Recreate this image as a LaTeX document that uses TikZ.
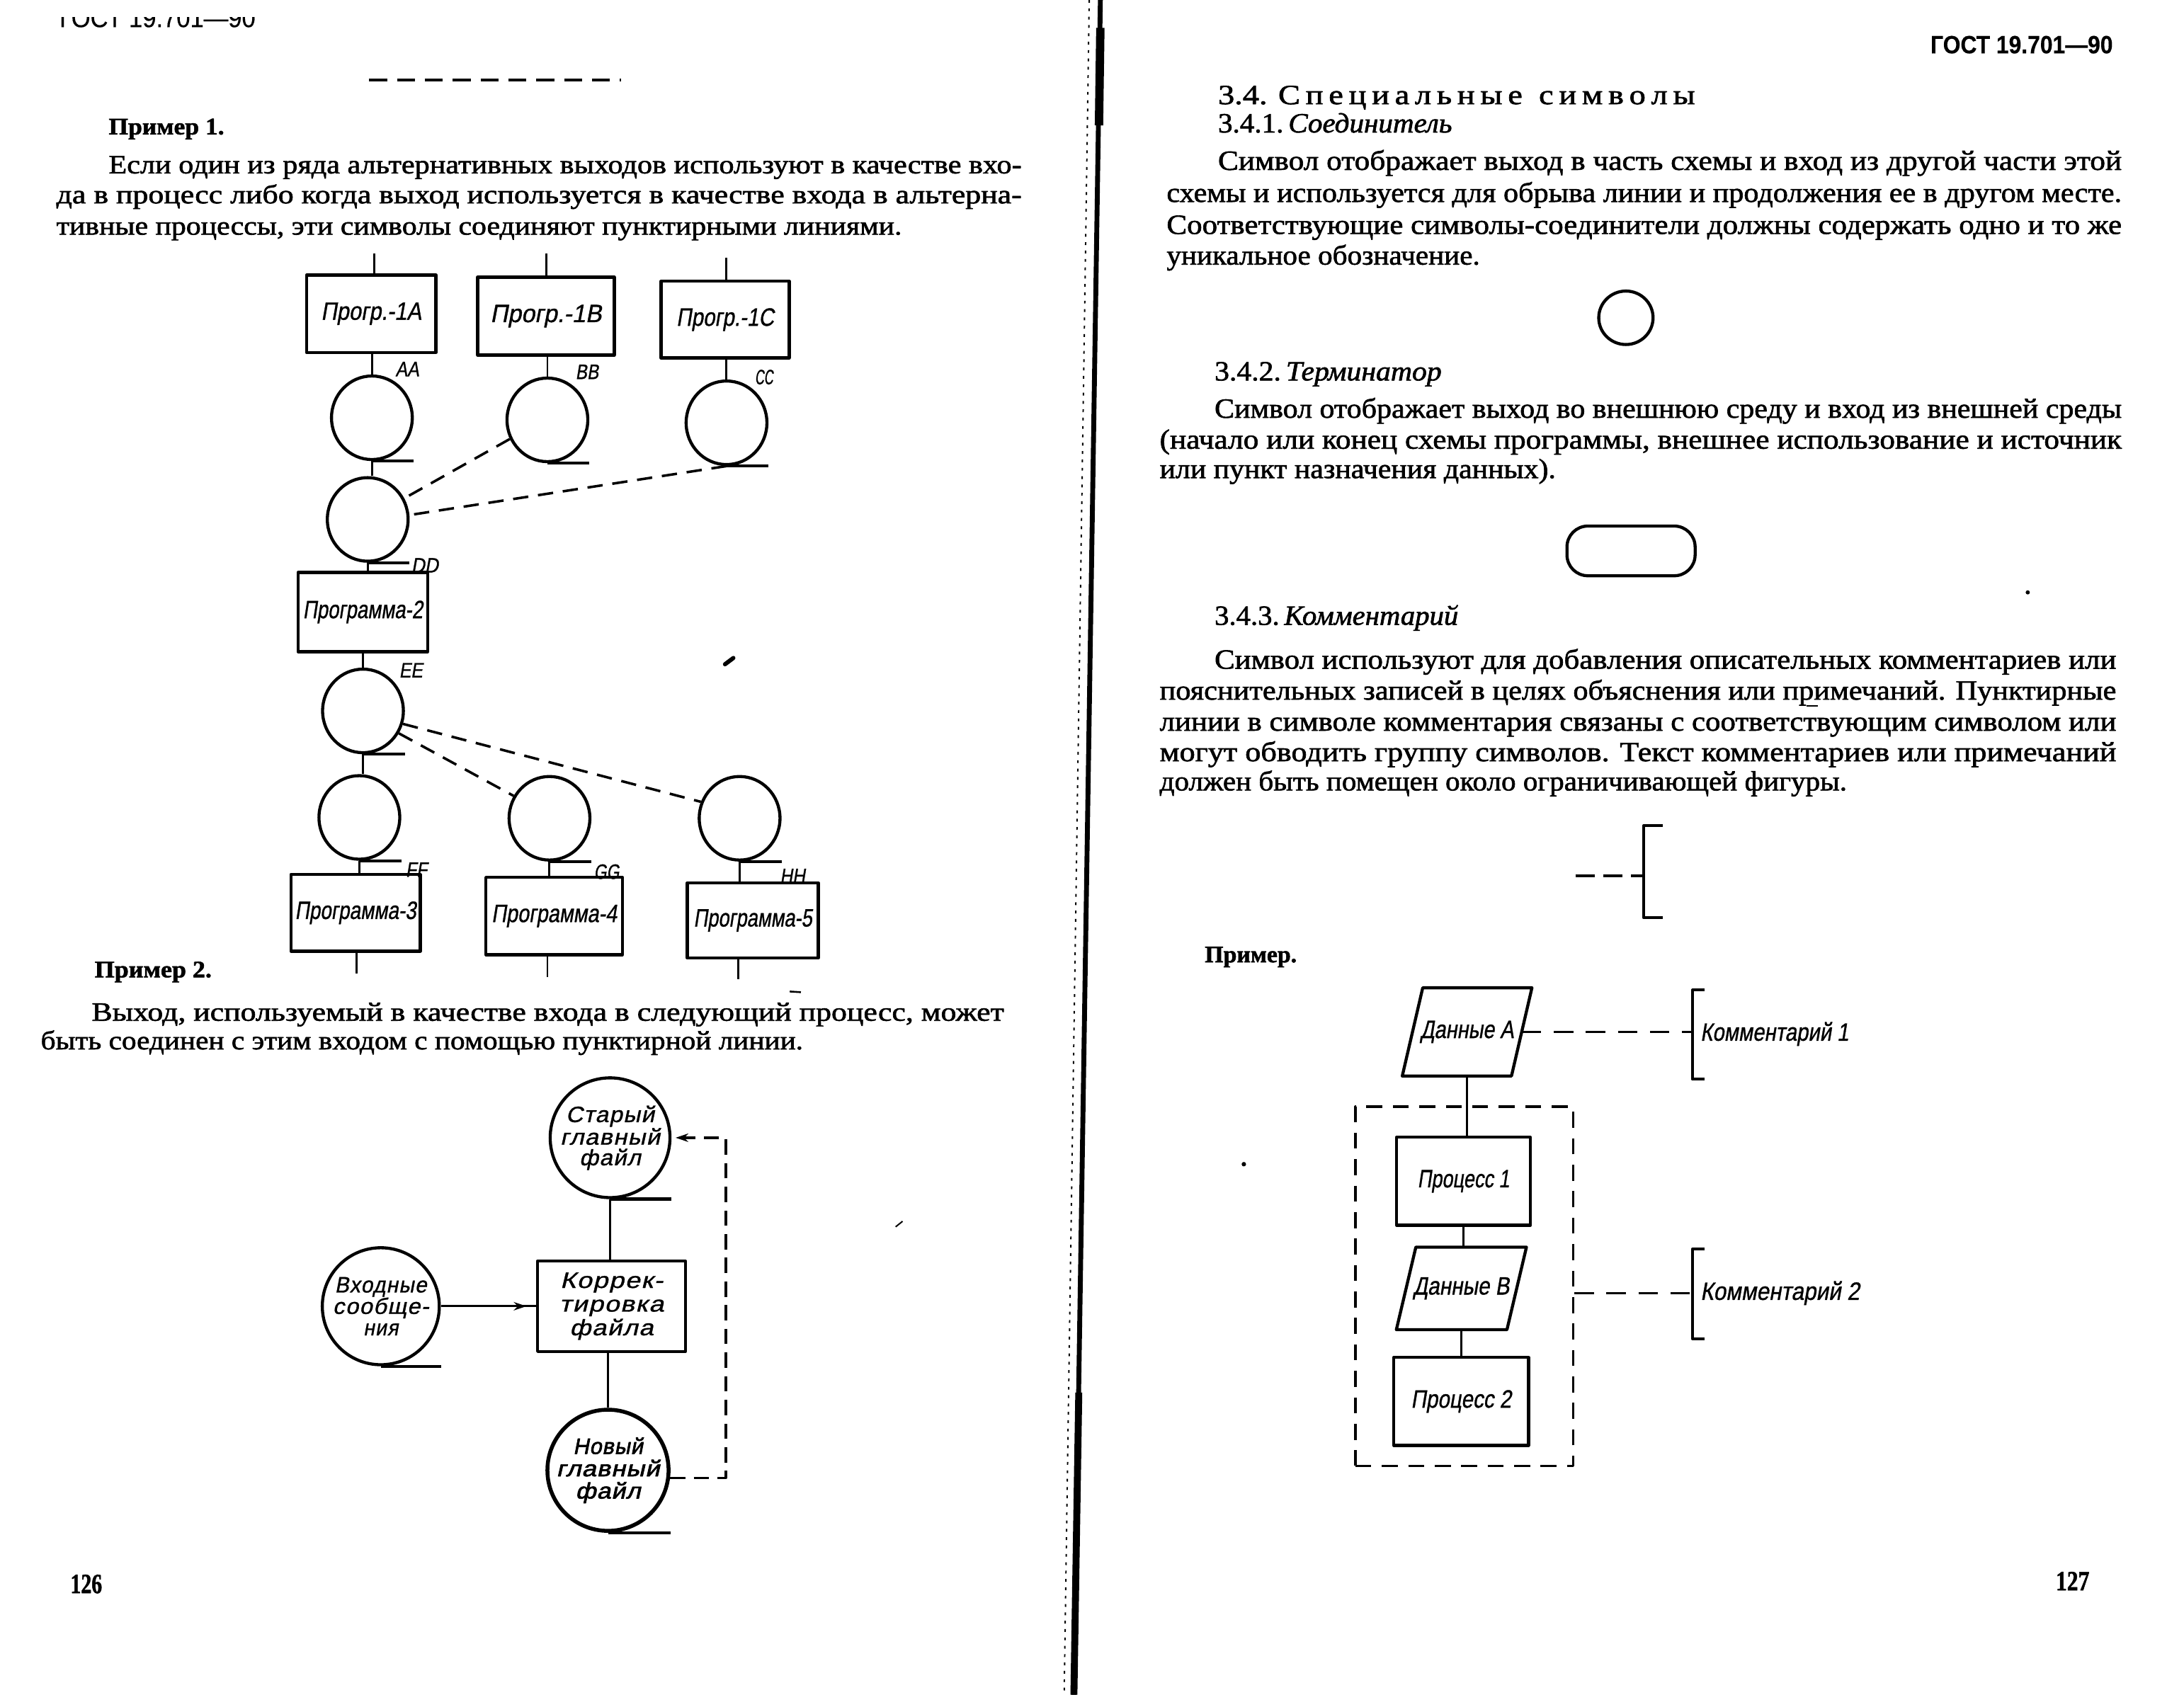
\documentclass[tikz,border=0pt]{standalone}
\usepackage{fontspec}
\usepackage{graphicx}
\usetikzlibrary{shapes.geometric,arrows.meta,decorations.markings}
\setmainfont{Liberation Serif}
\newfontfamily\bodyf{Liberation Serif}[FakeBold=1.6]
\newfontfamily\headf{Liberation Sans}[FakeBold=0.3]
\newfontfamily\gost{Liberation Sans}[FakeSlant=0.2,FakeBold=1.0]
\newfontfamily\gostw{Liberation Sans}[FakeSlant=0.2,FakeBold=1.0,LetterSpace=4]
\newfontfamily\gostb{Liberation Sans}[FakeSlant=0.2,FakeBold=2.2,LetterSpace=3]
% set a line of text at its natural height, scaled horizontally to a given width
\newcommand\fitw[2]{\setbox0=\hbox{#2}\pgfmathsetmacro\fitsc{#1/\the\wd0}\scalebox{\fitsc}[1]{\box0}}
\begin{document}
\begin{tikzpicture}[x=1pt,y=-1pt,line join=round,
  tl/.style={anchor=base west,inner sep=0pt,outer sep=0pt},
  txt/.style={tl,font=\bodyf\fontsize{20}{22}\selectfont},
  ltxt/.style={tl,font=\bodyf\fontsize{19}{21}\selectfont},
  btxt/.style={tl,font=\bodyf\bfseries\fontsize{17}{20}\selectfont},
  shp/.style={draw,line width=2.2pt},
  proc/.style={shp,rectangle,inner sep=1pt,font=\gost\fontsize{18}{18}\selectfont},
  tape/.style={shp,ellipse,minimum width=58pt,minimum height=60pt,inner sep=0pt},
  bigtape/.style={shp,circle,minimum size=#1,inner sep=-12pt,align=center},
  conn/.style={line width=1.5pt},
  dsh/.style={line width=1.8pt,dash pattern=on 11pt off 7pt},
  lbl/.style={inner sep=0pt,font=\gost\fontsize{15}{15}\selectfont},
  rlbl/.style={font=\gost\fontsize{18}{18}\selectfont},
  brk/.style={line width=2pt},
  arrowmid/.style={postaction={decorate},decoration={markings,
     mark=at position -7pt with {\arrow{Stealth[length=9pt,width=6pt]}}}}]

\fill[white] (0,0) rectangle (1568,1217);
\useasboundingbox (0,0) rectangle (1568,1217);

% ---------------- page 126 ----------------
\begin{scope}
  \clip (30,12.3) rectangle (200,30);
  \node[tl,font=\headf\fontsize{19}{19}\selectfont] (hl) at (42.7,19.5) {\fitw{140.7}{ГОСТ 19.701—90}};
\end{scope}
\coordinate (dl1) at (265,57.5);
\coordinate (dl2) at (446,57.5);
\draw[line width=2.4pt,dash pattern=on 13pt off 7pt] (dl1) -- (dl2);

\node[btxt] (ex1) at (78,96.5) {\fitw{83}{Пример 1.}};
\node[ltxt] (a1) at (78,124.5) {\fitw{655.5}{Если один из ряда альтернативных выходов используют в качестве вхо-}};
\node[ltxt] (a2) at (40.5,146) {\fitw{693}{да в процесс либо когда выход используется в качестве входа в альтерна-}};
\node[ltxt] (a3) at (40.5,168.5) {\fitw{607}{тивные процессы, эти символы соединяют пунктирными линиями.}};

% example 1: alternative outputs
\node[proc,minimum width=93pt,minimum height=55.5pt] (p1a) at (266.5,225.3) {\fitw{72}{Прогр.-1A}};
\node[proc,minimum width=98pt,minimum height=56pt] (p1b) at (392,227) {\fitw{80}{Прогр.-1B}};
\node[proc,minimum width=92pt,minimum height=55pt] (p1c) at (520.6,229.5) {\fitw{70}{Прогр.-1C}};
\coordinate (i1a) at (268.6,182);
\coordinate (i1b) at (392.4,182);
\coordinate (i1c) at (521.6,185);
\draw[conn] (i1a) -- (i1a |- p1a.north);
\draw[conn] (i1b) -- (i1b |- p1b.north);
\draw[conn] (i1c) -- (i1c |- p1c.north);

\node[tape] (ca) at (267,300) {};
\node[tape] (cb) at (393,301.5) {};
\node[tape] (cc) at (521.6,303.6) {};
\node[tape] (cd) at (264,373) {};
\node[proc,minimum width=93pt,minimum height=57pt] (p2) at (260.5,439.5) {\fitw{86}{Программа-2}};
\node[tape] (ce) at (260.6,510.5) {};
\node[tape] (cf) at (258,587) {};
\node[tape] (cg) at (394.5,587.6) {};
\node[tape] (ch) at (531,587.6) {};
\node[proc,minimum width=93pt,minimum height=55pt] (p3) at (255.3,655.5) {\fitw{87}{Программа-3}};
\node[proc,minimum width=98pt,minimum height=55.5pt] (p4) at (397.9,657.8) {\fitw{90}{Программа-4}};
\node[proc,minimum width=94pt,minimum height=54pt] (p5) at (540.5,661) {\fitw{85}{Программа-5}};
\foreach \n in {ca,cb,cc,cd,ce,cf,cg,ch}
  \draw[shp] (\n.south) -- (\n.south -| \n.east);

\draw[conn] (ca.north |- p1a.south) -- (ca.north);
\draw[conn] (cb.north |- p1b.south) -- (cb.north);
\draw[conn] (cc.north |- p1c.south) -- (cc.north);
\draw[conn] (ca.south) -- (ca.south |- cd.north);
\draw[conn] (cd.south) -- (cd.south |- p2.north);
\draw[conn] (ce.north |- p2.south) -- (ce.north);
\draw[conn] (ce.south) -- (ce.south |- cf.north);
\draw[conn] (cf.south) -- (cf.south |- p3.north);
\draw[conn] (cg.south) -- (cg.south |- p4.north);
\draw[conn] (ch.south) -- (ch.south |- p5.north);
\coordinate (o3) at (256,699);
\coordinate (o4) at (393,701.5);
\coordinate (o5) at (530,703);
\draw[conn] (o3 |- p3.south) -- (o3);
\draw[conn] (o4 |- p4.south) -- (o4);
\draw[conn] (o5 |- p5.south) -- (o5);

\draw[dsh] (cb.207) -- (cd.30);
\draw[dsh] (cc.south) -- (cd.6);
\draw[dsh] (ce.-32) -- (cg.148);
\draw[dsh] (ce.-18) -- (ch.157);

\node[lbl] (laa) at (292.4,265) {\fitw{16.8}{AA}};
\node[lbl] (lbb) at (421.5,267) {\fitw{16.6}{BB}};
\node[lbl] (lcc) at (548.5,270.8) {\fitw{13}{CC}};
\node[lbl] (ldd) at (305,406) {\fitw{19.4}{DD}};
\node[lbl] (lee) at (295,481.3) {\fitw{16.8}{EE}};
\node[lbl] (lff) at (299,624.5) {\fitw{15.5}{FF}};
\node[lbl] (lgg) at (435.5,626) {\fitw{18.2}{GG}};
\node[lbl] (lhh) at (569,629) {\fitw{18}{HH}};

\draw[line width=3pt,line cap=round] (520.5,477) -- (526.5,472.5);

\node[btxt] (ex2) at (68,701.8) {\fitw{84}{Пример 2.}};
\node[ltxt] (b1) at (65.8,733) {\fitw{655}{Выход, используемый в качестве входа в следующий процесс, может}};
\node[ltxt] (b2) at (29.3,753.5) {\fitw{547.3}{быть соединен с этим входом с помощью пунктирной линии.}};
\draw[line width=1.3pt] (567,712) -- (575,712.5);

% example 2: output used as the next input
\node[bigtape=86pt,font=\gostw\fontsize{16}{14.8}\selectfont] (sf) at (438,817)
  {\fitw{63.5}{Старый}\\\fitw{71.6}{главный}\\\fitw{44}{файл}};
\node[proc,minimum width=106pt,minimum height=65pt,align=center,font=\gostw\fontsize{16}{17}\selectfont] (kf) at (439,938)
  {\fitw{73.8}{Коррек-}\\\fitw{75}{тировка}\\\fitw{60}{файла}};
\node[bigtape=84pt,font=\gostw\fontsize{16}{15.4}\selectfont] (vf) at (273.4,938)
  {\fitw{66}{Входные}\\\fitw{69}{сообще-}\\\fitw{25}{ния}};
\node[bigtape=87pt,line width=2.8pt,font=\gostb\fontsize{16}{16}\selectfont] (nf) at (436.5,1055.8)
  {\fitw{50}{Новый}\\\fitw{74}{главный}\\\fitw{46.6}{файл}};
\foreach \n in {sf,vf,nf}
  \draw[shp] (\n.south) -- (\n.south -| \n.east);
\draw[conn] (sf.south) -- (sf.south |- kf.north);
\draw[conn] (nf.north |- kf.south) -- (nf.north);
\draw[conn,arrowmid] (vf.east) -- (vf.east -| kf.west);
\coordinate (fb) at (521,0);
\draw[line width=1.8pt,dash pattern=on 11pt off 6pt,-{Stealth[length=9pt,width=6pt]},shorten >=3pt]
  (nf.-7) -- (nf.-7 -| fb) |- (sf.east);

\draw[line width=1pt] (643,881) -- (648,877);
\node[tl,font=\bodyf\bfseries\fontsize{20}{20}\selectfont] (pg1) at (50.6,1144) {\fitw{22.7}{126}};

% ---------------- gutter ----------------
\draw[line width=3.5pt] (790,0) -- (771,1217);
\draw[line width=6pt] (790,20) -- (789,90);
\draw[line width=5pt] (774.5,1000) -- (771,1217);
\draw[line width=1pt,dash pattern=on 2pt off 4pt] (782,0) -- (764,1217);

% ---------------- page 127 ----------------
\node[tl,font=\headf\bfseries\fontsize{18}{18}\selectfont] (hr) at (1386,38.3) {\fitw{130.9}{ГОСТ 19.701—90}};
\node[txt] (h34) at (874.5,74.8) {\fitw{342.5}{3.4. С\,п\,е\,ц\,и\,а\,л\,ь\,н\,ы\,е\enspace с\,и\,м\,в\,о\,л\,ы}};
\node[txt] (h341) at (874.5,95.1) {\fitw{168}{3.4.1.\,\textit{Соединитель}}};
\node[txt] (c1) at (874.5,122) {\fitw{648.8}{Символ отображает выход в часть схемы и вход из другой части этой}};
\node[txt] (c2) at (837.6,145) {\fitw{685.7}{схемы и используется для обрыва линии и продолжения ее в другом месте.}};
\node[txt] (c3) at (837.6,168) {\fitw{685.7}{Соответствующие символы-соединители должны содержать одно и то же}};
\node[txt] (c4) at (837.6,190) {\fitw{224.9}{уникальное обозначение.}};

\node[shp,ellipse,minimum width=39pt,minimum height=38.4pt,inner sep=0pt] (sym1) at (1167.3,228.2) {};

\node[txt] (h342) at (872,273.2) {\fitw{163}{3.4.2.\,\textit{Терминатор}}};
\node[txt] (d1) at (872,300) {\fitw{651.3}{Символ отображает выход во внешнюю среду и вход из внешней среды}};
\node[txt] (d2) at (832.6,322.2) {\fitw{690.7}{(начало или конец схемы программы, внешнее использование и источник}};
\node[txt] (d3) at (832.6,343.3) {\fitw{284.4}{или пункт назначения данных).}};

\node[shp,rectangle,rounded corners=15pt,minimum width=92pt,minimum height=35.7pt,inner sep=0pt] (sym2) at (1171,395.6) {};
\fill (1455.8,425.4) circle (1.5pt);

\node[txt] (h343) at (872,448.7) {\fitw{175}{3.4.3.\,\textit{Комментарий}}};
\node[txt] (e1) at (872,480.2) {\fitw{647.4}{Символ используют для добавления описательных комментариев или}};
\node[txt] (e2) at (832.6,502.4) {\fitw{686.8}{пояснительных записей в целях объяснения или примечаний. Пунктирные}};
\node[txt] (e3) at (832.6,524.7) {\fitw{686.8}{линии в символе комментария связаны с соответствующим символом или}};
\node[txt] (e4) at (832.6,546.6) {\fitw{686.8}{могут обводить группу символов. Текст комментариев или примечаний}};
\node[txt] (e5) at (832.6,567.6) {\fitw{493.4}{должен быть помещен около ограничивающей фигуры.}};
\draw[line width=1.2pt] (1297,507) -- (1305,507);

% comment symbol
\coordinate (cs) at (1180,629);
\coordinate (csl) at (1131,629);
\draw[brk] (cs) ++(13.6,-36) -- ++(-13.6,0) -- ++(0,66) -- ++(13.6,0);
\draw[line width=2pt,dash pattern=on 14pt off 6pt] (csl) -- (cs);

\node[tl,font=\bodyf\bfseries\fontsize{17}{20}\selectfont] (ex3) at (865,691) {\fitw{66}{Пример.}};

% example with comments
\node[inner sep=0pt,minimum width=78pt,minimum height=63pt,rlbl] (da) at (1053.3,741) {\fitw{67}{Данные A}};
\draw[shp] ([xshift=7.35pt]da.north west) -- ([xshift=7.35pt]da.north east)
  -- ([xshift=-7.35pt]da.south east) -- ([xshift=-7.35pt]da.south west) -- cycle;
\node[proc,minimum width=96pt,minimum height=63.2pt,rlbl] (pr1) at (1050.7,848.3) {\fitw{66}{Процесс 1}};
\node[inner sep=0pt,minimum width=79pt,minimum height=58.9pt,rlbl] (db) at (1049.2,925.2) {\fitw{69}{Данные B}};
\draw[shp] ([xshift=7pt]db.north west) -- ([xshift=7pt]db.north east)
  -- ([xshift=-7pt]db.south east) -- ([xshift=-7pt]db.south west) -- cycle;
\node[proc,minimum width=96.7pt,minimum height=63.2pt,rlbl] (pr2) at (1049,1006.4) {\fitw{72}{Процесс 2}};
\node[draw,line width=1.8pt,dash pattern=on 11.5pt off 7.5pt,minimum width=156.3pt,minimum height=257.8pt] (grp) at (1051.2,923.7) {};
\draw[conn] (da.south) -- (da.south |- pr1.north);
\draw[conn] (pr1.south) -- (pr1.south |- db.north);
\draw[conn] (db.south) -- (db.south |- pr2.north);

\coordinate (k1b) at (1215,741);
\coordinate (k2b) at (1215,928.6);
\draw[brk] (k1b) ++(9,-30) -- ++(-9,0) -- ++(0,64) -- ++(9,0);
\draw[brk] (k2b) ++(9,-31.6) -- ++(-9,0) -- ++(0,64.4) -- ++(9,0);
\draw[line width=1.8pt,dash pattern=on 14pt off 9pt] (da.east) -- (da.east -| k1b);
\draw[line width=1.8pt,dash pattern=on 14pt off 9pt] (k2b -| grp.east) -- (k2b);
\node[anchor=west,inner sep=0pt,rlbl] (k1) at (1220.6,742.5) {\fitw{106.4}{Комментарий 1}};
\node[anchor=west,inner sep=0pt,rlbl] (k2) at (1220.6,928.6) {\fitw{114.2}{Комментарий 2}};
\fill (893,836) circle (1.6pt);

\node[tl,font=\bodyf\bfseries\fontsize{20}{20}\selectfont] (pg2) at (1476,1142) {\fitw{24}{127}};
\end{tikzpicture}
\end{document}
